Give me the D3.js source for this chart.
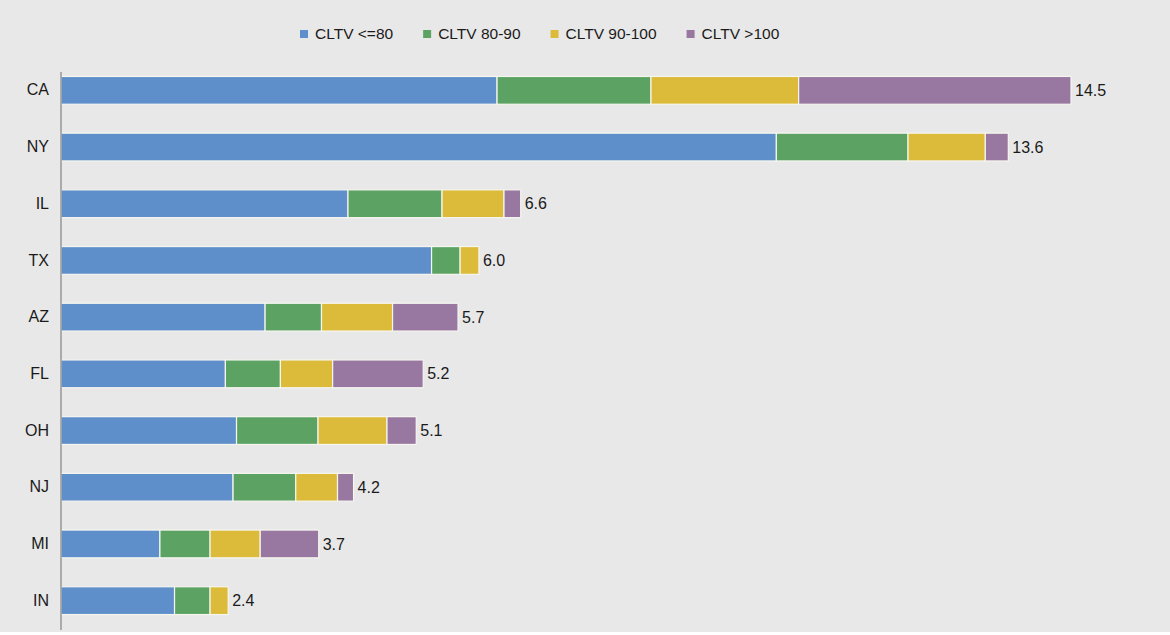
<!DOCTYPE html>
<html>
<head>
<meta charset="utf-8">
<script src="https://cdn.jsdelivr.net/npm/d3@7"></script>
<style>
  html, body { margin: 0; padding: 0; background: #ffffff; }
  svg { display: block; font-family: "Liberation Sans", Arial, sans-serif; }
</style>
</head>
<body>
<svg id="chart" width="1170" height="635"></svg>
<script>
// States, top to bottom
const states = ["CA", "NY", "IL", "TX", "AZ", "FL", "OH", "NJ", "MI", "IN"];

// Series names and values per state, by CLTV bucket
const seriesNames = ["CLTV <=80", "CLTV 80-90", "CLTV 90-100", "CLTV >100"];
const cltvLe80   = [6.26, 10.27, 4.12, 5.32, 2.93, 2.36, 2.52, 2.47, 1.42, 1.63];
const cltv80to90 = [2.21, 1.89, 1.35, 0.41, 0.81, 0.79, 1.17, 0.90, 0.72, 0.51];
const cltv90to100 = [2.12, 1.11, 0.89, 0.27, 1.02, 0.75, 0.99, 0.60, 0.72, 0.26];
const cltvGt100  = [3.91, 0.33, 0.24, 0.00, 0.94, 1.30, 0.42, 0.23, 0.84, 0.00];

// Totals shown at the end of each bar
const totals = [14.5, 13.6, 6.6, 6.0, 5.7, 5.2, 5.1, 4.2, 3.7, 2.4];

const colors = ["#5f8fca", "#5ca363", "#dcbb3a", "#9877a0"];

const rows = states.map((s, i) => ({
  state: s,
  [seriesNames[0]]: cltvLe80[i],
  [seriesNames[1]]: cltv80to90[i],
  [seriesNames[2]]: cltv90to100[i],
  [seriesNames[3]]: cltvGt100[i],
  total: totals[i]
}));

const svg = d3.select("#chart");

// Chart panel background
svg.append("rect")
  .attr("x", 0).attr("y", 0)
  .attr("width", 1170).attr("height", 632)
  .attr("fill", "#e8e8e8");

const x = d3.scaleLinear().domain([0, 14.5]).range([61, 1071]);
const y = d3.scaleBand().domain(states).range([62, 629])
  .paddingInner(0.51).paddingOuter(0.255);
const color = d3.scaleOrdinal().domain(seriesNames).range(colors);

const stacked = d3.stack().keys(seriesNames)(rows);

// Stacked segments
svg.append("g")
  .selectAll("g")
  .data(stacked)
  .join("g")
  .attr("fill", d => color(d.key))
  .selectAll("rect")
  .data(d => d)
  .join("rect")
  .filter(d => d[1] - d[0] > 0)
  .attr("x", d => x(d[0]))
  .attr("y", d => y(d.data.state))
  .attr("width", d => x(d[1]) - x(d[0]))
  .attr("height", y.bandwidth())
  .attr("stroke", "#f6f6f0")
  .attr("stroke-width", 1.2);

// Category axis
const yAxis = svg.append("g")
  .attr("transform", "translate(49,0)")
  .call(d3.axisLeft(y).tickSize(0).tickPadding(0));
yAxis.select(".domain").remove();
yAxis.selectAll("text")
  .attr("font-family", "Liberation Sans, Arial, sans-serif")
  .attr("font-size", 16)
  .attr("fill", "#1a1a1a");

svg.append("line")
  .attr("x1", x(0)).attr("x2", x(0))
  .attr("y1", 72).attr("y2", 630)
  .attr("stroke", "#8a8a8a")
  .attr("stroke-width", 1.3);

// Total labels
svg.append("g")
  .selectAll("text")
  .data(rows)
  .join("text")
  .attr("x", d => x(d.total) + 4)
  .attr("y", d => y(d.state) + y.bandwidth() / 2)
  .attr("dy", "0.35em")
  .attr("font-size", 16)
  .attr("fill", "#1a1a1a")
  .text(d => d3.format(".1f")(d.total));

// Legend
const legend = svg.append("g").attr("transform", "translate(300,34)");
let lx = 0;
seriesNames.forEach(name => {
  const item = legend.append("g").attr("transform", `translate(${lx},0)`);
  item.append("rect")
    .attr("x", 0).attr("y", -4)
    .attr("width", 8).attr("height", 8)
    .attr("fill", color(name));
  const t = item.append("text")
    .attr("x", 15)
    .attr("dy", "0.35em")
    .attr("font-size", 15.5)
    .attr("fill", "#1a1a1a")
    .text(name);
  lx += 15 + t.node().getComputedTextLength() + 30;
});
</script>
</body>
</html>
